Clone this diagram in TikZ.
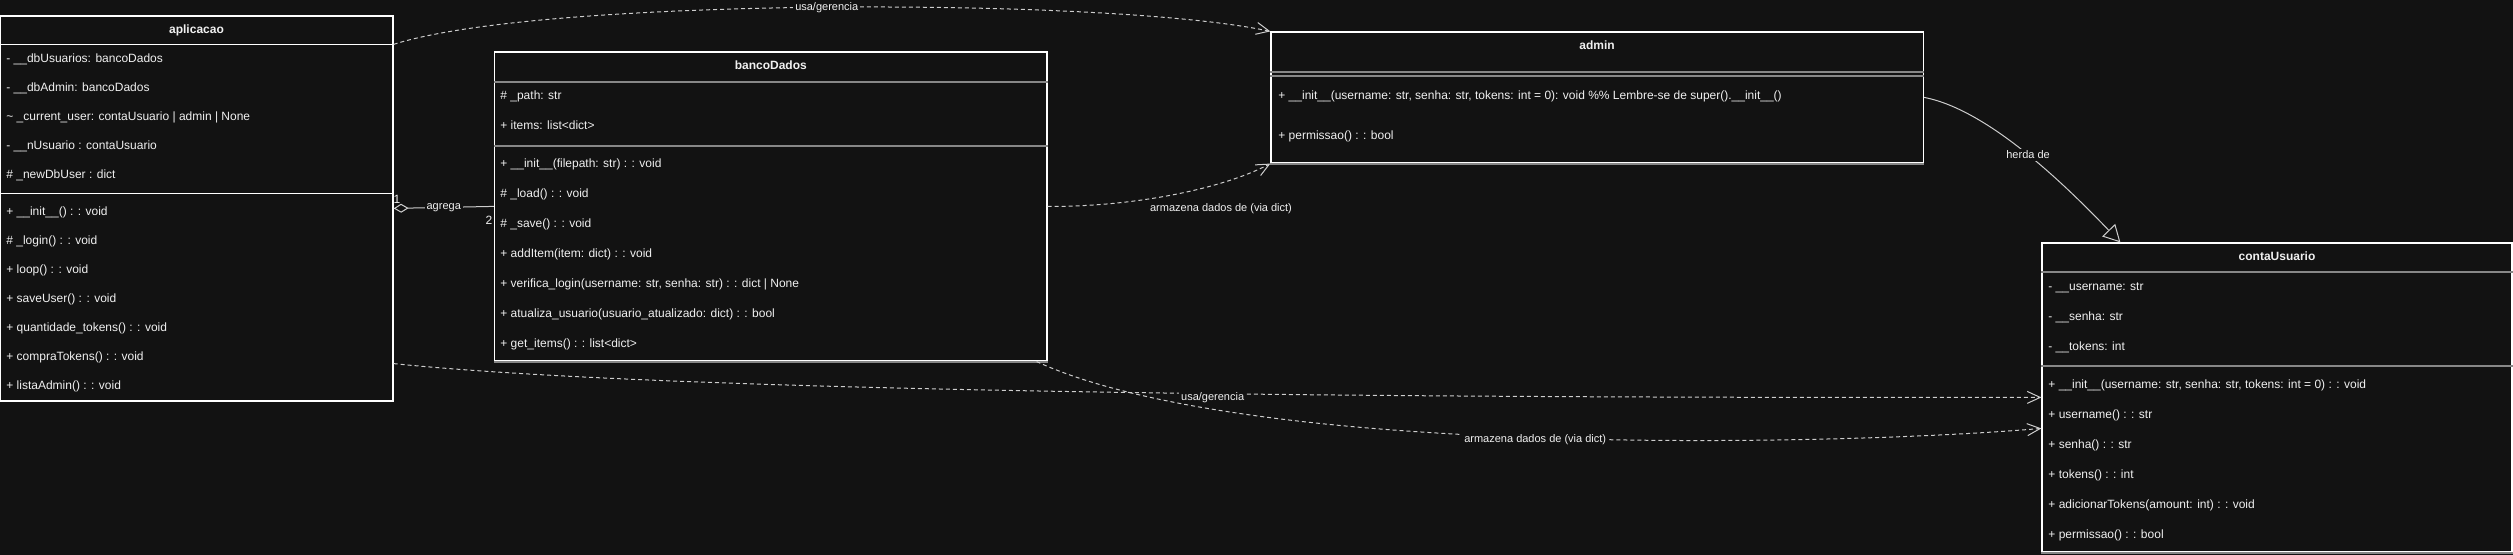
\documentclass[tikz,border=0pt]{standalone}
\usepackage{fontspec}
\setmainfont{Liberation Sans}
\usetikzlibrary{arrows.meta,fit,calc}
\definecolor{bg}{RGB}{18,18,18}
\definecolor{txt}{RGB}{240,240,240}
\definecolor{sepc}{RGB}{135,135,135}
\definecolor{edgec}{RGB}{205,205,205}
\begin{document}
\begin{tikzpicture}[x=0.5pt,y=-0.5pt,
  box/.style={draw=white, line width=0.6pt, fill=bg, inner sep=0pt},
  sepline/.style={draw=sepc, line width=1pt},
  sepwhite/.style={draw=white, line width=0.6pt},
  mem/.style={anchor=base west, inner sep=0pt, text=txt, font=\fontsize{6pt}{7pt}\selectfont},
  ttl/.style={anchor=base, inner sep=0pt, text=txt, font=\fontsize{6pt}{7pt}\selectfont\bfseries},
  lbl/.style={fill=bg, inner sep=1pt, text=txt, font=\fontsize{5.5pt}{6.5pt}\selectfont},
  plainlbl/.style={inner sep=0pt, text=txt, font=\fontsize{5.5pt}{6.5pt}\selectfont},
  mult/.style={inner sep=0pt, text=txt, font=\fontsize{6pt}{7pt}\selectfont},
  dep/.style={draw=edgec, line width=0.5pt, dash pattern=on 2pt off 1.5pt, -{Straight Barb[length=6.5pt,width=6pt]}},
  inh/.style={draw=edgec, line width=0.5pt, -{Triangle[open,length=8.5pt,width=9pt]}},
  agg/.style={draw=edgec, line width=0.5pt, {Diamond[open,length=7.5pt,width=4.5pt]}-},
]
\fill[bg] (0,0) rectangle (2513,555);
\useasboundingbox (0,0) rectangle (2513,555);

% ---------------- aplicacao ----------------
\node[box, fit={(0.5,16) (393,401)}] (apl) {};
\draw[sepwhite] ($(apl.north west)+(0,29)$) -- ($(apl.north east)+(0,29)$);
\draw[sepwhite] ($(apl.north west)+(0,178)$) -- ($(apl.north east)+(0,178)$);
\node[ttl] (aplt) at (196.5,34) {aplicacao};
\node[mem] (apl1) at (6,63) {- \_\_dbUsuarios: bancoDados};
\node[mem] (apl2) at (6,92) {- \_\_dbAdmin: bancoDados};
\node[mem] (apl3) at (6,121) {\textasciitilde{} \_current\_user: contaUsuario | admin | None};
\node[mem] (apl4) at (6,150) {- \_\_nUsuario : contaUsuario};
\node[mem] (apl5) at (6,179) {\# \_newDbUser : dict};
\node[mem] (apl6) at (6,216) {+ \_\_init\_\_() : : void};
\node[mem] (apl7) at (6,245) {\# \_login() : : void};
\node[mem] (apl8) at (6,274) {+ loop() : : void};
\node[mem] (apl9) at (6,303) {+ saveUser() : : void};
\node[mem] (apl10) at (6,332) {+ quantidade\_tokens() : : void};
\node[mem] (apl11) at (6,361) {+ compraTokens() : : void};
\node[mem] (apl12) at (6,390) {+ listaAdmin() : : void};

% ---------------- bancoDados ----------------
\node[box, fit={(494.5,52) (1047,361)}] (bd) {};
\draw[sepline] ($(bd.north west)+(0,31)$) -- ($(bd.north east)+(0,31)$);
\draw[sepline] ($(bd.north west)+(0,95)$) -- ($(bd.north east)+(0,95)$);
\draw[sepline] (bd.south west) -- (bd.south east);
\node[ttl] (bdt) at (770.75,70) {bancoDados};
\node[mem] (bd1) at (500,100) {\# \_path: str};
\node[mem] (bd2) at (500,130) {+ items: list<dict>};
\node[mem] (bd3) at (500,168) {+ \_\_init\_\_(filepath: str) : : void};
\node[mem] (bd4) at (500,198) {\# \_load() : : void};
\node[mem] (bd5) at (500,228) {\# \_save() : : void};
\node[mem] (bd6) at (500,258) {+ addItem(item: dict) : : void};
\node[mem] (bd7) at (500,288) {+ verifica\_login(username: str, senha: str) : : dict | None};
\node[mem] (bd8) at (500,318) {+ atualiza\_usuario(usuario\_atualizado: dict) : : bool};
\node[mem] (bd9) at (500,348) {+ get\_items() : : list<dict>};

% ---------------- admin ----------------
\node[box, fit={(1271,32) (1923.5,163)}] (adm) {};
\draw[sepline] ($(adm.north west)+(0,41)$) -- ($(adm.north east)+(0,41)$);
\draw[sepline] ($(adm.north west)+(0,45)$) -- ($(adm.north east)+(0,45)$);
\draw[sepline] (adm.south west) -- (adm.south east);
\node[ttl] (admt) at (1597,50) {admin};
\node[mem] (adm1) at (1278,100) {+ \_\_init\_\_(username: str, senha: str, tokens: int = 0): void \%\% Lembre-se de super().\_\_init\_\_()};
\node[mem] (adm2) at (1278,140) {+ permissao() : : bool};

% ---------------- contaUsuario ----------------
\node[box, fit={(2042,243) (2512,552)}] (cu) {};
\draw[sepline] ($(cu.north west)+(0,30)$) -- ($(cu.north east)+(0,30)$);
\draw[sepline] ($(cu.north west)+(0,124)$) -- ($(cu.north east)+(0,124)$);
\draw[sepline] (cu.south west) -- (cu.south east);
\node[ttl] (cut) at (2277,261) {contaUsuario};
\node[mem] (cu1) at (2048,291) {- \_\_username: str};
\node[mem] (cu2) at (2048,321) {- \_\_senha: str};
\node[mem] (cu3) at (2048,351) {- \_\_tokens: int};
\node[mem] (cu4) at (2048,389) {+ \_\_init\_\_(username: str, senha: str, tokens: int = 0) : : void};
\node[mem] (cu5) at (2048,419) {+ username() : : str};
\node[mem] (cu6) at (2048,449) {+ senha() : : str};
\node[mem] (cu7) at (2048,479) {+ tokens() : : int};
\node[mem] (cu8) at (2048,509) {+ adicionarTokens(amount: int) : : void};
\node[mem] (cu9) at (2048,539) {+ permissao() : : bool};

% ---------------- connectors ----------------
% aplicacao -> admin (usa/gerencia)
\draw[dep] ($(apl.north east)+(0,29)$) .. controls (540,-3) and (1110,-3) .. (adm.north west)
  node[lbl, pos=0.5] (l1) {usa/gerencia};
% aplicacao -> contaUsuario (usa/gerencia)
\draw[dep] ($(apl.south east)+(0,-38)$) .. controls (700,395) and (1500,398) .. ($(cu.north west)+(0,155)$)
  node[lbl, pos=0.545, yshift=-2pt] (l2) {usa/gerencia};
% bancoDados -> contaUsuario (armazena)
\draw[dep] ($(bd.south east)+(-11,0)$) .. controls (1250,460) and (1850,445) .. ($(cu.north west)+(0,186)$)
  node[lbl, pos=0.49, yshift=-1pt] (l3) {armazena dados de (via dict)};
% bancoDados -> admin (armazena)
\draw[dep] ($(bd.north east)+(0,155)$) .. controls (1130,207) and (1220,190) .. (adm.south west);
\node[plainlbl] (l4) at (1221,209) {armazena dados de (via dict)};
% admin -> contaUsuario (herda de)
\draw[inh] ($(adm.north east)+(0,66)$) .. controls (1990,110) and (2070,190) .. ($(cu.north west)+(79,0)$)
  node[lbl, pos=0.5] (l5) {herda de};
% aplicacao <>- bancoDados (agrega)
\draw[agg] ($(apl.north east)+(0,193)$) -- ($(bd.north west)+(0,155)$)
  node[lbl, midway] (l6) {agrega};
\node[mult] (m1) at (397,199) {1};
\node[mult] (m2) at (489,220) {2};
\end{tikzpicture}
\end{document}
